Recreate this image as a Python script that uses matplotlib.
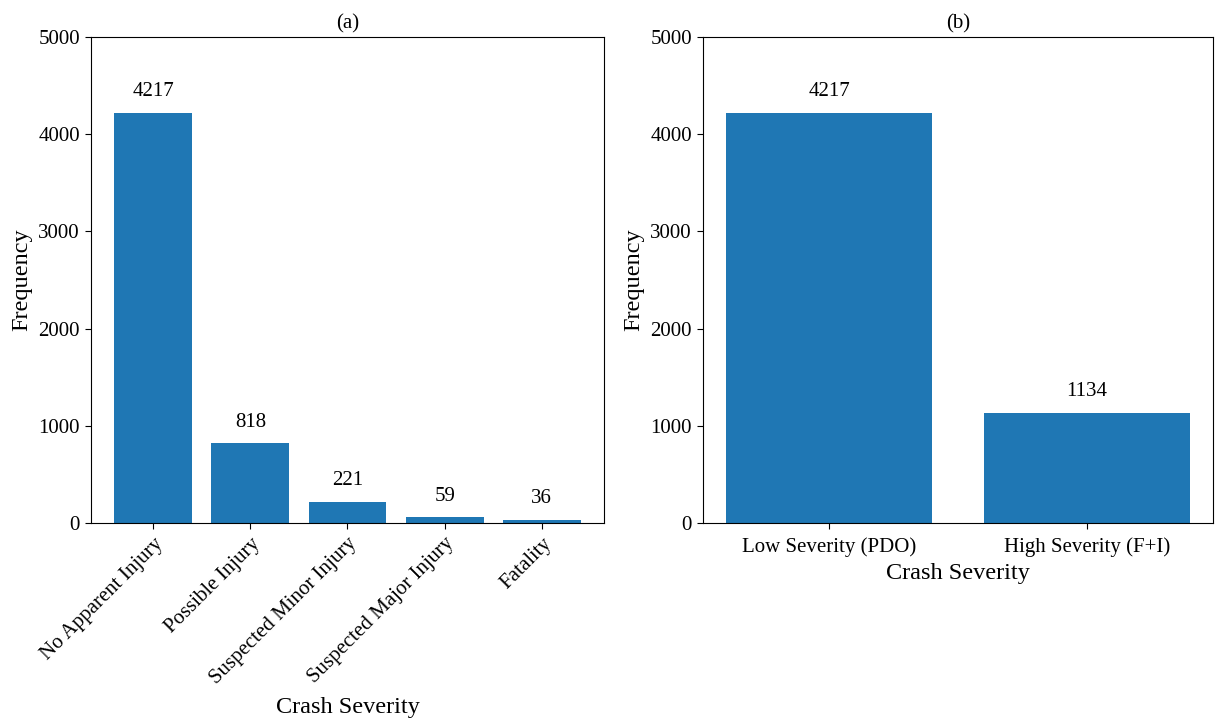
import matplotlib
matplotlib.use('Agg')
import matplotlib.pyplot as plt

# crash severity counts
cats_a = ['No Apparent Injury', 'Possible Injury', 'Suspected Minor Injury',
          'Suspected Major Injury', 'Fatality']
vals_a = [4217, 818, 221, 59, 36]

cats_b = ['Low Severity (PDO)', 'High Severity (F+I)']
vals_b = [4217, 1134]

plt.rcParams['font.family'] = ['Liberation Serif', 'DejaVu Serif']
plt.rcParams['font.size'] = 15

fig = plt.figure(figsize=(12.15, 7.19), dpi=100)
ax1 = fig.add_axes([0.0749, 0.2726, 0.4222, 0.676])
ax2 = fig.add_axes([0.5786, 0.2726, 0.4198, 0.676])

color = '#1f77b4'

bars = ax1.bar(cats_a, vals_a, color=color)
for b, v in zip(bars, vals_a):
    ax1.text(b.get_x() + b.get_width() / 2, v + 120, str(v),
             ha='center', va='bottom', fontsize=15)
ax1.set_ylim(0, 5000)
ax1.set_title('(a)', fontsize=15, pad=6)
ax1.set_ylabel('Frequency', fontsize=17.5)
ax1.set_xlabel('Crash Severity', fontsize=17.5, labelpad=6)
plt.setp(ax1.get_xticklabels(), rotation=45, ha='right', rotation_mode='anchor')

bars = ax2.bar(cats_b, vals_b, color=color)
for b, v in zip(bars, vals_b):
    ax2.text(b.get_x() + b.get_width() / 2, v + 120, str(v),
             ha='center', va='bottom', fontsize=15)
ax2.set_ylim(0, 5000)
ax2.set_title('(b)', fontsize=15, pad=6)
ax2.set_ylabel('Frequency', fontsize=17.5)
ax2.set_xlabel('Crash Severity', fontsize=17.5, labelpad=4)

for ax in (ax1, ax2):
    ax.tick_params(labelsize=15, length=4.5)
ax2.tick_params(axis='x', pad=6)

fig.savefig('out.png', dpi=100)
